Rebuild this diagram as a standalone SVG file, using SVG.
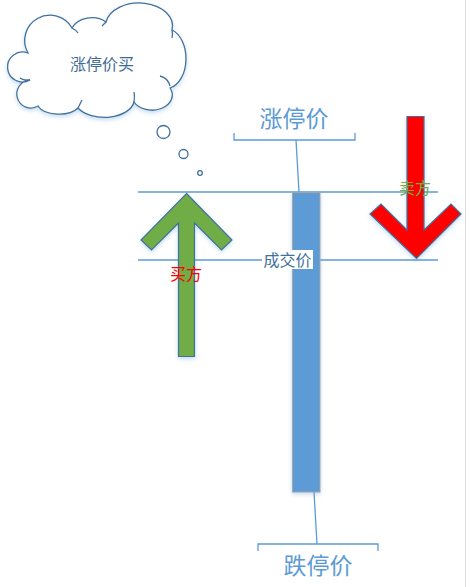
<svg xmlns="http://www.w3.org/2000/svg" width="470" height="587" viewBox="0 0 470 587">
<style>
.cjk{font-family:"Noto Sans CJK SC","Noto Sans CJK TC",sans-serif;text-anchor:middle}
.ln{stroke:#5B9BD5;stroke-width:1.3;fill:none}
.cl{fill:#fff;stroke:#41719C;stroke-width:1.3}
</style>
<defs>
<filter id="sh" x="-20%" y="-20%" width="140%" height="140%">
<feDropShadow dx="0" dy="2" stdDeviation="2" flood-color="#5B9BD5" flood-opacity="0.35"/>
</filter>
</defs>
<rect width="470" height="587" fill="#fff"/>
<line x1="465.5" y1="0" x2="465.5" y2="587" stroke="#dcdcdc" stroke-width="1"/>
<g id="cloud">
<path class="cl" filter="url(#sh)" d="M28,53 A24,24 0 0 1 72,28 A22,18 0 0 1 106,22 A32,22 0 0 1 172,30 A20,30 0 0 1 170,88 A20,15 0 0 1 134,102 A30,18 0 0 1 78,108 A22,12 0 0 1 38,106 A14,14 0 1 1 30,80 A15,15 0 1 1 28,53 Z"/>
<path class="ln" style="stroke:#41719C" d="M30,80 Q24,81 20,78 M160,76 Q168,78 170,86 M134,102 Q135,96 134,92 M78,108 Q80,104 82,100 M72,28 Q76,30 78,33 M106,22 Q104,24 102,26 M172,30 Q173,34 172,38"/>
<text class="cjk" x="102" y="70" font-size="16" fill="#3F6A96">涨停价买</text>
<circle class="cl" cx="163.5" cy="132" r="6.5"/>
<circle class="cl" cx="183.5" cy="154" r="4.5"/>
<circle class="cl" cx="200" cy="173" r="2.3"/>
</g>
<g id="connectors">
<line class="ln" x1="138" y1="192" x2="438" y2="192"/>
<line class="ln" x1="138" y1="260" x2="438" y2="260"/>
<path class="ln" d="M234,133 V140 H355 V133 M296,140 L299,192"/>
<path class="ln" d="M258,551 V544 H378 V551 M314,492 L317,544"/>
</g>
<g id="bar">
<rect x="292.5" y="192.5" width="27.5" height="299.5" fill="#5B9BD5" stroke="#A5A5A5" stroke-width="1" filter="url(#sh)"/>
</g>
<g id="label-top">
<text class="cjk" x="294" y="127" font-size="23" fill="#5B9BD5">涨停价</text>
</g>
<g id="label-bottom">
<text class="cjk" x="318" y="574" font-size="23" fill="#5B9BD5">跌停价</text>
</g>
<g id="label-trade">
<rect x="262" y="250" width="51" height="19" fill="#fff"/>
<text class="cjk" x="287.5" y="266" font-size="16" fill="#41719C">成交价</text>
</g>
<g id="buy-arrow">
<polygon points="186.5,193.5 232,240 221.5,250 194.5,223 194.5,356.5 178.5,356.5 178.5,223 151.5,250 141,240" fill="#70AD47" stroke="#41719C" stroke-width="1.2" filter="url(#sh)"/>
<text class="cjk" x="186" y="280" font-size="16" fill="#FF0000">买方</text>
</g>
<g id="sell-arrow">
<polygon points="407,116.5 424,116.5 424,230 451,204 461,214 416.5,258.5 370,214 381,204 407,230" fill="#FF0000" stroke="#41719C" stroke-width="1.2" filter="url(#sh)"/>
<text class="cjk" x="415" y="194" font-size="16" fill="#70AD47">卖方</text>
</g>
</svg>
